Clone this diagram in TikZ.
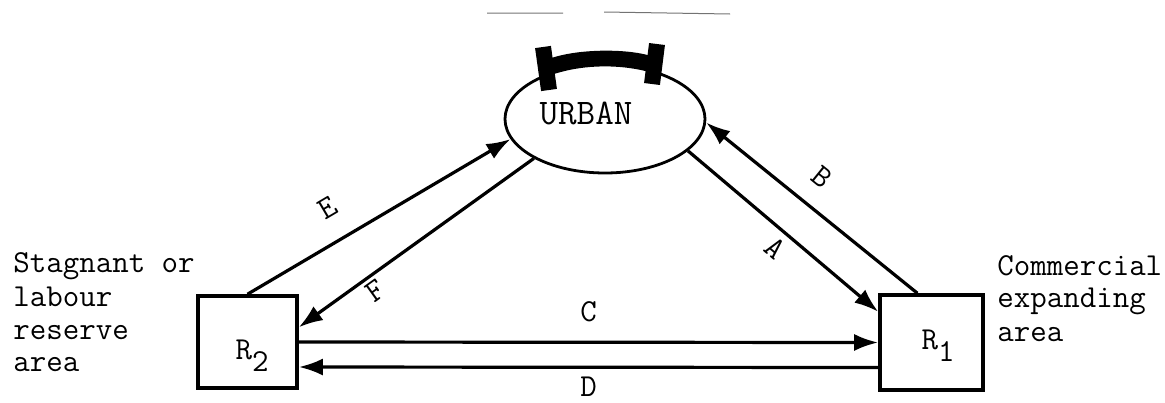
\documentclass[tikz,border=0pt]{standalone}
\usepackage{fontspec}
\usetikzlibrary{arrows.meta,shapes.geometric,calc}
\newcommand{\tyfont}{\fontsize{16}{16}\selectfont\ttfamily}
\newcommand{\rsub}[1]{R\lower6pt\hbox{#1}}
\tikzset{
  zone/.style={draw,line width=1.8pt,inner sep=0pt},
  region/.style={draw,ellipse,line width=1.4pt,minimum width=100pt,minimum height=54pt,inner sep=0pt},
  flow/.style={line width=1.6pt,-{Latex[length=12pt,width=8.5pt]}},
  lbl/.style={font=\tyfont,inner sep=2pt},
  side/.style={font=\tyfont,anchor=base west,inner sep=0pt}
}

\begin{document}
\begin{tikzpicture}[x=0.5pt,y=-0.5pt]
\useasboundingbox (0,0) rectangle (1165,402);
% marks along the top edge
\draw[line width=0.5pt,black!55] (487,13) -- (563,13) (604,12) -- (730,14);
% urban centre with its bracket
\node[region] (urban) at (605,119) {};
\node[lbl,font=\fontsize{18}{18}\selectfont\ttfamily] (urbantxt) at (586,113) {URBAN};
\draw[line width=7pt] (550,66) .. controls (575,56) and (625,55) .. (650,63);
\draw[line width=8pt] (543,47) -- (549,90) (657,44) -- (652,84);
% the two rural areas
\node[zone,minimum width=49.5pt,minimum height=46pt] (r2) at (247.5,342) {};
\node[zone,minimum width=51.5pt,minimum height=47.5pt] (r1) at (931.5,342.5) {};
\node[lbl] (r2txt) at (252,356) {\rsub{2}};
\node[lbl] (r1txt) at (938,346) {\rsub{1}};
\foreach \t/\y [count=\i] in {Stagnant or/272,labour/306,reserve/339,area/371}
  \node[side] (west\i) at (13,\y) {\t};
\foreach \t/\y [count=\i] in {Commercial/275,expanding/307,area/341}
  \node[side] (east\i) at (997,\y) {\t};
% flows
\draw[flow] (urban.339) -- node[lbl,sloped,below=1pt,pos=0.52] {A} (r1.150);
\draw[flow] (r1.106) -- node[lbl,sloped,above=7.5pt,pos=0.54] {B} (urban.-2);
\draw[flow] (r2.east) -- node[lbl,above=7.5pt] {C} (r1.west);
\draw[flow] ($(r1.west)+(0,25)$) -- node[lbl,inner sep=0pt,below=4pt] {D} ($(r2.east)+(0,25)$);
\draw[flow] (r2.north) -- node[lbl,sloped,above=9pt,pos=0.37] {E} (urban.192);
\draw[flow] (urban.209) -- node[lbl,sloped,below,pos=0.71] {F} (r2.16);
\end{tikzpicture}
\end{document}
